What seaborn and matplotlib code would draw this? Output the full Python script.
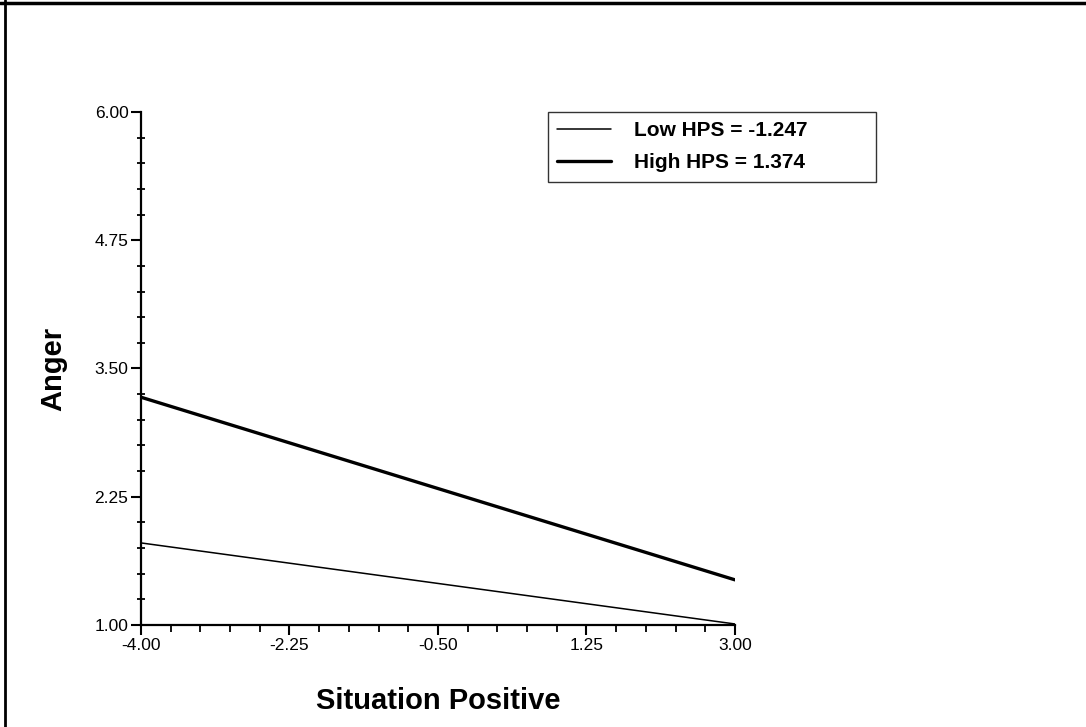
import matplotlib
matplotlib.use("Agg")
import matplotlib.pyplot as plt
import matplotlib.lines as mlines
from matplotlib.ticker import FixedLocator, FormatStrFormatter
import numpy as np
import pandas as pd
import seaborn as sns

# simple slopes
situation = [-4.00, 3.00]
low_hps = [1.80, 1.01]
high_hps = [3.22, 1.44]
series_names = ["Low HPS = -1.247", "High HPS = 1.374"]

x_ticks = [-4.00, -2.25, -0.50, 1.25, 3.00]
y_ticks = [1.00, 2.25, 3.50, 4.75, 6.00]

df = pd.DataFrame({
    "situation": situation * 2,
    "anger": low_hps + high_hps,
    "group": [series_names[0]] * 2 + [series_names[1]] * 2,
})

sns.set_style("white")
plt.rcParams["font.family"] = ["Liberation Sans", "DejaVu Sans"]
plt.rcParams["text.color"] = "black"
plt.rcParams["axes.labelcolor"] = "black"

fig = plt.figure(figsize=(10.86, 7.27), dpi=100)
ax = fig.add_axes([0.1298, 0.1403, 0.547, 0.7057])

widths = {series_names[0]: 1.1, series_names[1]: 2.4}
for name in series_names:
    sns.lineplot(data=df[df["group"] == name], x="situation", y="anger",
                 color="black", linewidth=widths[name], ax=ax, legend=False)

ax.set_xlim(-4.0, 3.0)
ax.set_ylim(1.0, 6.0)
ax.xaxis.set_major_locator(FixedLocator(x_ticks))
ax.yaxis.set_major_locator(FixedLocator(y_ticks))
ax.xaxis.set_minor_locator(FixedLocator(np.arange(-4.0, 3.01, 0.35)))
ax.yaxis.set_minor_locator(FixedLocator(np.arange(1.0, 6.01, 0.25)))
ax.xaxis.set_major_formatter(FormatStrFormatter("%.2f"))
ax.yaxis.set_major_formatter(FormatStrFormatter("%.2f"))

sns.despine(ax=ax)
for side in ["left", "bottom"]:
    ax.spines[side].set_linewidth(1.6)
    ax.spines[side].set_color("black")

ax.tick_params(axis="both", which="major", direction="out", length=7, width=1.5,
               labelsize=12.5, colors="black", pad=2)
ax.tick_params(axis="x", which="minor", direction="out", length=5, width=1.3, colors="black")
ax.tick_params(axis="y", which="minor", direction="inout", length=6, width=1.3, colors="black")
ax.tick_params(left=True, bottom=True, which="both")

ax.set_xlabel("Situation Positive", fontsize=21, fontweight="bold", labelpad=25)
ax.set_ylabel("Anger", fontsize=21, fontweight="bold", labelpad=20)

handles = [mlines.Line2D([], [], color="black", linewidth=widths[n]) for n in series_names]
leg = ax.legend(handles, series_names, loc="upper left",
                bbox_to_anchor=(0.685, 1.0, 0.552, 0.0), mode="expand",
                prop={"weight": "bold", "size": 15}, frameon=True, fancybox=False,
                handlelength=2.6, handletextpad=1.1, labelspacing=0.62,
                borderpad=0.45, borderaxespad=0.0)
leg.get_frame().set_edgecolor("black")
leg.get_frame().set_linewidth(1.0)
for t in leg.get_texts():
    t.set_color("black")

# figure border (top and left edges visible in the reference)
fig.add_artist(mlines.Line2D([0, 1], [1 - 2.5 / 727] * 2, color="black", linewidth=2.5,
                             transform=fig.transFigure))
fig.add_artist(mlines.Line2D([5 / 1086] * 2, [0, 1], color="black", linewidth=2.0,
                             transform=fig.transFigure))

fig.savefig("out.png", dpi=100)
